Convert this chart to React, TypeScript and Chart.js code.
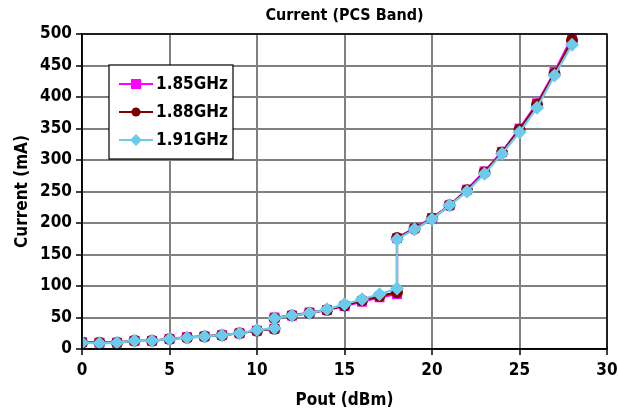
import React, { useEffect, useRef } from "react";
import { Chart, registerables } from "chart.js";

Chart.register(...registerables);

const pout = [0, 1, 2, 3, 4, 5, 6, 7, 8, 9, 10, 11, 11, 12, 13, 14, 15, 16, 17, 18, 18, 19, 20, 21, 22, 23, 24, 25, 26, 27, 28];
const ser185 = [11, 10, 10, 13, 13, 16, 19, 20, 22, 25, 29, 32, 50, 53, 58, 62, 68, 75, 82, 87, 176, 192, 208, 228, 253, 282, 313, 350, 390, 440, 495];
const ser188 = [10, 10, 10, 13, 13, 16, 18, 20, 22, 25, 29, 32, 49, 53, 57, 62, 69, 77, 84, 90, 176, 191, 207, 228, 252, 280, 312, 348, 388, 437, 490];
const ser191 = [10, 9, 10, 13, 13, 16, 18, 20, 22, 25, 30, 33, 49, 53, 57, 63, 71, 79, 87, 96, 174, 190, 206, 228, 250, 278, 310, 344, 383, 434, 483];
const seriesNames = ["1.85GHz", "1.88GHz", "1.91GHz"];
const seriesColors = ["#FF00FF", "#800000", "#6CCBEC"];
const seriesMarkers = ["rect", "circle", "rectRot"];
const markerRadius = [7, 6, 7];
const titleText = "Current (PCS Band)";
const xTitle = "Pout (dBm)";
const yTitle = "Current (mA)";

const FONT = "'DejaVu Sans Condensed', 'DejaVu Sans', sans-serif";

export default function App() {
  const ref = useRef<HTMLCanvasElement | null>(null);
  useEffect(() => {
    document.body.style.margin = "0";
    const series = [ser185, ser188, ser191];
    const datasets = series.map((s, i) => ({
      label: seriesNames[i],
      data: s.map((v, j) => ({ x: pout[j], y: v })),
      borderColor: seriesColors[i],
      backgroundColor: seriesColors[i],
      borderWidth: 2.2,
      pointStyle: seriesMarkers[i] as any,
      pointRadius: markerRadius[i],
      pointBorderWidth: 0,
      tension: 0,
      order: 3 - i,
    }));
    const overlay = {
      id: "overlay",
      afterDraw(chart: any) {
        const ctx = chart.ctx;
        const a = chart.chartArea;
        ctx.save();
        ctx.strokeStyle = "#000";
        ctx.lineWidth = 1.5;
        ctx.strokeRect(a.left, a.top, a.right - a.left, a.bottom - a.top);
        ctx.fillStyle = "#000";
        ctx.font = `bold 16px ${FONT}`;
        ctx.textAlign = "center";
        ctx.textBaseline = "middle";
        ctx.fillText(titleText, (a.left + a.right) / 2, 16);
        const bx = 109, by = 65, bw = 124, bh = 94;
        ctx.fillStyle = "#fff";
        ctx.fillRect(bx, by, bw, bh);
        ctx.strokeStyle = "#000";
        ctx.lineWidth = 1.2;
        ctx.strokeRect(bx, by, bw, bh);
        ctx.font = `bold 17px ${FONT}`;
        ctx.textAlign = "left";
        for (let i = 0; i < 3; i++) {
          const yy = by + 19 + i * 28;
          ctx.strokeStyle = seriesColors[i];
          ctx.lineWidth = 2;
          ctx.beginPath();
          ctx.moveTo(bx + 10, yy);
          ctx.lineTo(bx + 44, yy);
          ctx.stroke();
          ctx.fillStyle = seriesColors[i];
          if (i === 0) ctx.fillRect(bx + 22, yy - 5, 10, 10);
          else if (i === 1) { ctx.beginPath(); ctx.arc(bx + 27, yy, 4.5, 0, Math.PI * 2); ctx.fill(); }
          else { ctx.beginPath(); ctx.moveTo(bx + 27, yy - 6); ctx.lineTo(bx + 33, yy); ctx.lineTo(bx + 27, yy + 6); ctx.lineTo(bx + 21, yy); ctx.closePath(); ctx.fill(); }
          ctx.fillStyle = "#000";
          ctx.fillText(seriesNames[i], bx + 47, yy + 1);
        }
        ctx.restore();
      },
    };
    const chart = new Chart(ref.current as HTMLCanvasElement, {
      type: "line",
      data: { datasets },
      options: {
        animation: false,
        responsive: false,
        layout: { padding: { left: 0, right: 11, top: 34, bottom: 0 } },
        plugins: { legend: { display: false }, title: { display: false }, tooltip: { enabled: false } },
        scales: {
          x: {
            type: "linear",
            min: 0,
            max: 30,
            ticks: { stepSize: 5, color: "#000", font: { family: FONT, weight: "bold", size: 17 }, padding: 5 },
            grid: { color: "#808080", lineWidth: 2, tickLength: 6, tickColor: "#000", tickWidth: 1.5 },
            border: { color: "#000", width: 1.5 },
            title: { display: true, text: xTitle, color: "#000", font: { family: FONT, weight: "bold", size: 17 }, padding: { top: 0, bottom: 7 } },
            afterFit(scale: any) { scale.height = 69; scale.paddingRight = 0; scale.paddingLeft = 0; },
          },
          y: {
            min: 0,
            max: 500,
            ticks: { stepSize: 50, color: "#000", font: { family: FONT, weight: "bold", size: 17 }, padding: 4 },
            grid: { color: "#808080", lineWidth: 2, tickLength: 6, tickColor: "#000", tickWidth: 1.5 },
            border: { color: "#000", width: 1.5 },
            title: { display: true, text: yTitle, color: "#000", font: { family: FONT, weight: "bold", size: 17 }, padding: { top: 12, bottom: 0 } },
            afterFit(scale: any) { scale.width = 82; scale.paddingTop = 0; scale.paddingBottom = 0; },
          },
        },
      },
      plugins: [overlay],
    });
    return () => chart.destroy();
  }, []);
  return <canvas ref={ref} width={618} height={418} style={{ display: "block" }} />;
}
